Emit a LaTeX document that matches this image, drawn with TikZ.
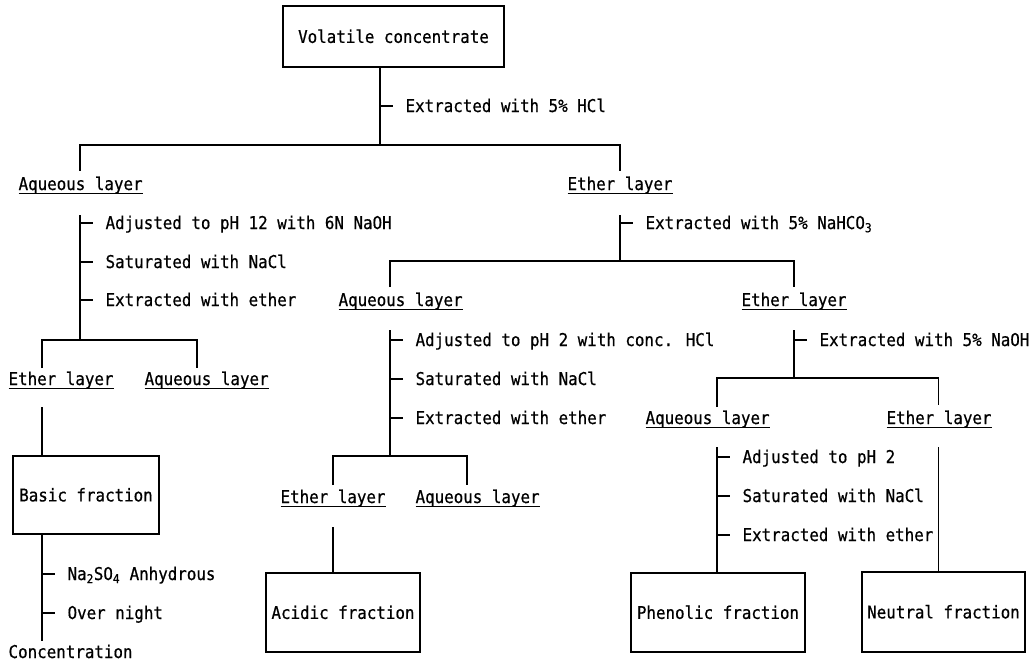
\documentclass[tikz,border=0pt]{standalone}
\usepackage{fontspec}
\newfontfamily\dmono[FakeStretch=0.9,FakeBold=0.6]{DejaVu Sans Mono}
\newcommand\diagfont{\dmono\fontsize{17.6}{20}\selectfont}
\newcommand\myul[1]{\setbox0\hbox{#1}\rlap{\rule[-4.2pt]{\wd0}{1pt}}\box0}
\begin{document}
\begin{tikzpicture}[x=1pt,y=-1pt,line width=1.2pt,line join=miter,
  txt/.style={inner sep=0pt,anchor=base west,font=\diagfont},
  box/.style={draw,inner sep=0pt,text height=12.8pt,text depth=0pt,font=\diagfont},
  tick/.style={line width=1.1pt}]
\fill[white] (0,0) rectangle (1033,662);
\useasboundingbox (0,0) rectangle (1033,662);

% top
\node[box,minimum width=221pt,minimum height=61pt] (vc) at (393.5,36.5) {Volatile concentrate};
\coordinate (j1) at (380,145);
\draw (vc.south -| j1) -- (j1);
\node[txt] (s1) at (405,112) {Extracted with 5\% HCl};
\draw[tick] (s1.base west) ++(-25,-6) -- ++(13,0);

\node[txt] (aq1) at (18,190) {\myul{Aqueous layer}};
\node[txt] (et1) at (567,190) {\myul{Ether layer}};
\coordinate (j2) at (80,340);
\coordinate (j3) at (620,261);
\draw ([yshift=5pt]j2 |- aq1.north) |- (j1) -| ([yshift=5pt]j3 |- et1.north);

% left branch
\draw ([yshift=-25pt]j2 |- aq1.base) -- (j2);
\node[txt] (s2) at (105,229) {Adjusted to pH 12 with 6N NaOH};
\node[txt] (s3) at (105,268) {Saturated with NaCl};
\node[txt] (s4) at (105,306) {Extracted with ether};
\foreach \s in {s2,s3,s4} \draw[tick] (\s.base west) ++(-25,-6) -- ++(13,0);

\node[txt] (et2) at (8,385) {\myul{Ether layer}};
\node[txt] (aq2) at (144,385) {\myul{Aqueous layer}};
\coordinate (et2t) at (42,368);
\coordinate (aq2t) at (197,368);
\draw (et2t) |- (j2) -| (aq2t);

\node[box,minimum width=146pt,minimum height=78pt] (basic) at (86,495) {Basic fraction};
\coordinate (et2b) at (42,407);
\draw (et2b) -- (et2b |- basic.north);
\node[txt] (s13) at (67,580) {Na\textsubscript{2}SO\textsubscript{4} Anhydrous};
\node[txt] (s14) at (67,619) {Over night};
\node[txt] (conc) at (8,658) {Concentration};
\coordinate (cend) at (42,641);
\draw (basic.south -| et2b) -- (cend);
\foreach \s in {s13,s14} \draw[tick] (\s.base west) ++(-25,-6) -- ++(13,0);

% middle
\draw ([yshift=-25pt]j3 |- et1.base) -- (j3);
\node[txt] (s5) at (645,229) {Extracted with 5\% NaHCO\textsubscript{3}};
\draw[tick] (s5.base west) ++(-25,-6) -- ++(13,0);

\node[txt] (aq3) at (338,306) {\myul{Aqueous layer}};
\node[txt] (et3) at (741,306) {\myul{Ether layer}};
\coordinate (aq3t) at (390,287);
\coordinate (j5) at (794,378);
\draw (aq3t) |- (j3) -| ([yshift=5pt]j5 |- et3.north);

\coordinate (aq3b) at (390,330);
\coordinate (j4) at (390,456);
\draw (aq3b) -- (j4);
\node[txt] (s6) at (415,346) {Adjusted to pH 2 with conc. HCl};
\node[txt] (s7) at (415,385) {Saturated with NaCl};
\node[txt] (s8) at (415,424) {Extracted with ether};
\foreach \s in {s6,s7,s8} \draw[tick] (\s.base west) ++(-25,-6) -- ++(13,0);

\node[txt] (et4) at (280,503) {\myul{Ether layer}};
\node[txt] (aq4) at (415,503) {\myul{Aqueous layer}};
\coordinate (et4t) at (333,485);
\coordinate (aq4t) at (467,485);
\draw (et4t) |- (j4) -| (aq4t);

\node[box,minimum width=154pt,minimum height=79pt] (acidic) at (343,612.5) {Acidic fraction};
\coordinate (et4b) at (333,527);
\draw (et4b) -- (et4b |- acidic.north);

% right
\draw ([yshift=-24pt]j5 |- et3.base) -- (j5);
\node[txt] (s9) at (819,346) {Extracted with 5\% NaOH};
\draw[tick] (s9.base west) ++(-25,-6) -- ++(13,0);

\node[txt] (aq5) at (645,424) {\myul{Aqueous layer}};
\node[txt] (et5) at (886,424) {\myul{Ether layer}};
\coordinate (aq5t) at (717,407);
\coordinate (et5x) at (938.5,400);
\draw (aq5t) |- (j5) -| ([yshift=5pt]et5x |- et5.north);

\node[box,minimum width=174pt,minimum height=79pt] (phen) at (718,612.5) {Phenolic fraction};
\node[box,minimum width=163pt,minimum height=80pt] (neut) at (943.5,612) {Neutral fraction};

\coordinate (aq5b) at (717,447);
\draw (aq5b) -- (aq5b |- phen.north);
\node[txt] (s10) at (742,463) {Adjusted to pH 2};
\node[txt] (s11) at (742,502) {Saturated with NaCl};
\node[txt] (s12) at (742,541) {Extracted with ether};
\foreach \s in {s10,s11,s12} \draw[tick] (\s.base west) ++(-25,-6) -- ++(13,0);

\draw ([yshift=-23pt]et5x |- et5.base) -- (et5x |- neut.north);
\end{tikzpicture}
\end{document}
